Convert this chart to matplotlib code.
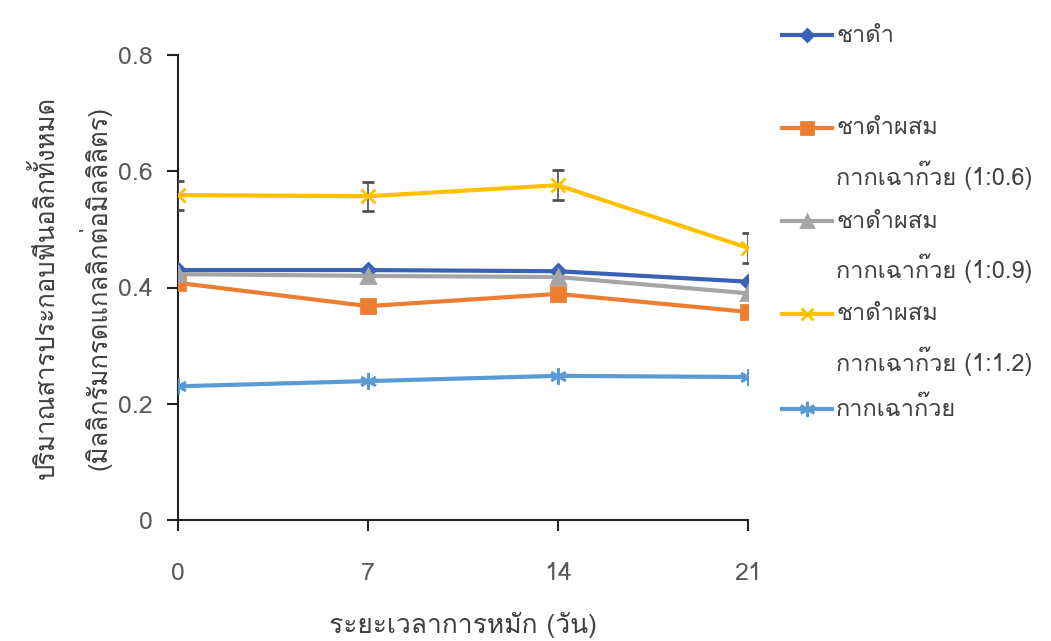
import matplotlib
matplotlib.use('Agg')
import matplotlib.pyplot as plt
from matplotlib import font_manager
from matplotlib.ft2font import FT2Font
from matplotlib.lines import Line2D

days = [0, 7, 14, 21]
black_tea = [0.430, 0.430, 0.428, 0.410]
mix_06 = [0.408, 0.368, 0.389, 0.358]
mix_09 = [0.423, 0.420, 0.418, 0.390]
mix_12 = [0.559, 0.557, 0.576, 0.468]
mix_12_err = [0.025, 0.025, 0.026, 0.026]
grass_jelly = [0.230, 0.239, 0.248, 0.246]

labels = ['ชาดำ', 'ชาดำผสม\nกากเฉาก๊วย (1:0.6)', 'ชาดำผสม\nกากเฉาก๊วย (1:0.9)',
          'ชาดำผสม\nกากเฉาก๊วย (1:1.2)', 'กากเฉาก๊วย']
colors = ['#3a62b4', '#ed7d31', '#a5a5a5', '#ffc000', '#5b9bd5']
markers = ['D', 's', '^', 'x', (6, 2, 0)]
msizes = [7, 10, 10, 10, 12]


def find_thai_font():
    """หาฟอนต์ที่มีตัวอักษรไทย"""
    for f in font_manager.fontManager.ttflist:
        try:
            if ord('ก') in FT2Font(f.fname).get_charmap():
                return f.name
        except Exception:
            pass
    return None


thai = find_thai_font()
plt.rcParams['font.family'] = [thai, 'DejaVu Sans'] if thai else ['DejaVu Sans']

fig = plt.figure(figsize=(10.51, 6.41), dpi=100)
ax = fig.add_axes([178 / 1051, 1 - 520 / 641, 570 / 1051, 465 / 641])

series = [black_tea, mix_06, mix_09, mix_12, grass_jelly]
for i in range(5):
    if i == 3:
        ax.errorbar(days, series[i], yerr=mix_12_err, color=colors[i], lw=3,
                    marker=markers[i], ms=msizes[i], mew=2, ecolor='#505050',
                    elinewidth=1.2, capsize=4, capthick=1.2, zorder=3)
    else:
        ax.plot(days, series[i], color=colors[i], lw=3, marker=markers[i],
                ms=msizes[i], mew=2, zorder=3)

ax.set_xlim(0, 21)
ax.set_ylim(0, 0.8)
ax.set_xticks(days)
ax.set_yticks([0, 0.2, 0.4, 0.6, 0.8])
ax.set_yticklabels(['0', '0.2', '0.4', '0.6', '0.8'])
ax.spines['top'].set_visible(False)
ax.spines['right'].set_visible(False)
ax.spines['left'].set_color('#222222')
ax.spines['bottom'].set_color('#222222')
ax.spines['left'].set_linewidth(1.5)
ax.spines['bottom'].set_linewidth(1.5)
ax.tick_params(axis='both', colors='#222222', labelcolor='#595959', labelsize=18,
               width=1.5, length=8)
ax.tick_params(axis='x', pad=22)
ax.tick_params(axis='y', pad=10)

ax.set_xlabel('ระยะเวลาการหมัก (วัน)', fontsize=19, color='#404040', labelpad=20)
ax.set_ylabel('ปริมาณสารประกอบฟีนอลิกทั้งหมด\n(มิลลิกรัมกรดแกลลิกต่อมิลลิลิตร)',
              fontsize=18.5, color='#404040', labelpad=5, linespacing=1.7)

# legend on the right, marker on first line of each label
legend_y = [35, 128, 221, 314, 409]
for i in range(5):
    yf = 1 - legend_y[i] / 641
    fig.add_artist(Line2D([782 / 1051, 832 / 1051], [yf, yf], color=colors[i], lw=3,
                          transform=fig.transFigure))
    fig.add_artist(Line2D([807 / 1051], [yf], color=colors[i], marker=markers[i],
                          ms=msizes[i] - 1, mew=2, transform=fig.transFigure))
    for j, line in enumerate(labels[i].split('\n')):
        fig.text(836 / 1051, yf - j * 47 / 641, line, fontsize=17, color='#404040',
                 va='center', ha='left')

fig.savefig('out.png', dpi=100)
